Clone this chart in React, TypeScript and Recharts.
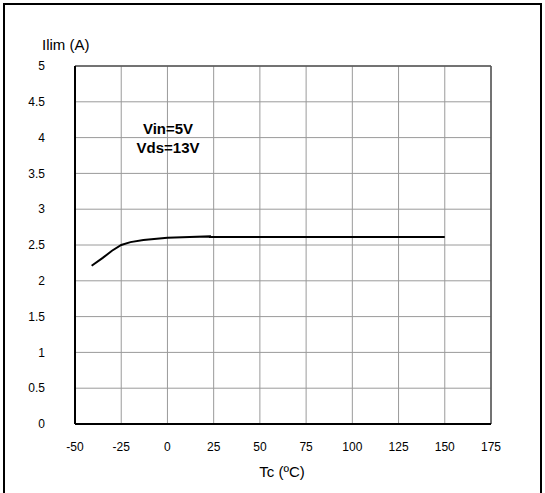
import React from "react";
import {
  LineChart,
  Line,
  XAxis,
  YAxis,
  CartesianGrid,
  ReferenceLine,
} from "recharts";

const tempC = [-41, -35, -30, -25, -20, -13, 0, 12, 23, 23, 150];
const ilimA = [2.21, 2.32, 2.42, 2.5, 2.54, 2.57, 2.6, 2.61, 2.62, 2.61, 2.61];
const xTicks = [-50, -25, 0, 25, 50, 75, 100, 125, 150, 175];
const yTicks = [0, 0.5, 1, 1.5, 2, 2.5, 3, 3.5, 4, 4.5, 5];

const data = tempC.map((t, i) => ({ t, ilim: ilimA[i] }));

const FONT = "'Liberation Sans', Arial, sans-serif";

export default function App() {
  return (
    <div
      style={{
        position: "absolute",
        left: 0,
        top: 0,
        width: 545,
        height: 493,
        background: "#fff",
        overflow: "hidden",
        fontFamily: FONT,
      }}
    >
      {/* frame, bottom edge is cut off in the original */}
      <div
        style={{
          position: "absolute",
          left: 3,
          top: 3,
          width: 535,
          height: 520,
          border: "2px solid #000",
        }}
      />
      <LineChart
        width={545}
        height={493}
        data={data}
        margin={{ top: 66, right: 54, bottom: 0, left: 0 }}
      >
        <CartesianGrid stroke="#9a9a9a" strokeWidth={1} />
        <XAxis
          dataKey="t"
          type="number"
          domain={[-50, 175]}
          ticks={xTicks}
          height={69}
          tickSize={0}
          tickMargin={18}
          axisLine={{ stroke: "#000", strokeWidth: 2 }}
          tickLine={false}
          tick={{ fill: "#000", fontSize: 12, fontFamily: FONT }}
        />
        <YAxis
          type="number"
          domain={[0, 5]}
          ticks={yTicks}
          width={75}
          tickSize={0}
          tickMargin={30}
          axisLine={{ stroke: "#000", strokeWidth: 2 }}
          tickLine={false}
          tick={{ fill: "#000", fontSize: 12, fontFamily: FONT }}
        />
        <ReferenceLine y={5} stroke="#555" strokeWidth={1.5} />
        <ReferenceLine x={175} stroke="#555" strokeWidth={1.5} />
        <Line
          dataKey="ilim"
          stroke="#000"
          strokeWidth={2}
          dot={false}
          type="linear"
          isAnimationActive={false}
        />
      </LineChart>
      <div
        style={{
          position: "absolute",
          left: 42,
          top: 36,
          fontSize: 15,
          color: "#000",
          whiteSpace: "nowrap",
        }}
      >
        Ilim (A)
      </div>
      <div
        style={{
          position: "absolute",
          left: 232,
          width: 100,
          textAlign: "center",
          top: 463,
          fontSize: 15,
          color: "#000",
        }}
      >
        Tc (ºC)
      </div>
      <div
        style={{
          position: "absolute",
          left: 118,
          width: 100,
          textAlign: "center",
          top: 119,
          fontSize: 15,
          fontWeight: "bold",
          lineHeight: "19px",
          color: "#000",
        }}
      >
        Vin=5V
        <br />
        Vds=13V
      </div>
    </div>
  );
}
